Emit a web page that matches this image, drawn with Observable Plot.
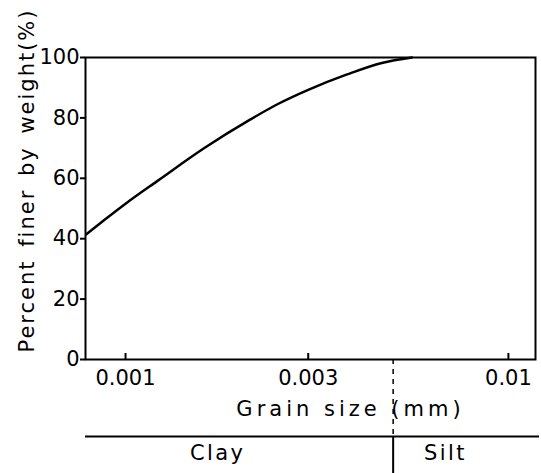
<!DOCTYPE html>
<html>
<head>
<meta charset="utf-8">
<script src="https://cdn.jsdelivr.net/npm/d3@7"></script>
<script src="https://cdn.jsdelivr.net/npm/@observablehq/plot@0.6"></script>
<style>
  html, body { margin: 0; padding: 0; background: #fff; }
  #chart svg { display: block; }
</style>
</head>
<body>
<div id="chart"></div>
<script>
// Grain-size distribution curve (percent finer vs. grain size, log scale)
const grainSize    = [0.00079, 0.00088, 0.001, 0.00122, 0.00161, 0.00212, 0.0025, 0.003, 0.00379, 0.00467, 0.0056];
const percentFiner = [41.5,    46.2,    51.6,  59.4,    70.1,    79.5,    84.6,   89.3,  94.4,    98.2,    100];

const xTicks = [0.001, 0.003, 0.01];
const yTicks = [0, 20, 40, 60, 80, 100];

// Soil classification band below the axis
const classBoundary = [0.005];
const classNames    = ["Clay", "Silt"];
const classLabelAt  = [0.00174, 0.00685];

const xTitle = "Grain size (mm)";
const yTitle = "Percent finer by weight(%)";

const curve = grainSize.map((d, i) => ({size: d, finer: percentFiner[i]}));
const classes = classNames.map((name, i) => ({name, at: classLabelAt[i]}));

const font = "DejaVu Sans, sans-serif";

const chart = Plot.plot({
  width: 541,
  height: 473,
  marginLeft: 85,
  marginRight: 6,
  marginTop: 57,
  marginBottom: 114,
  style: {fontFamily: font, fontSize: "21px", color: "#000", background: "#fff", overflow: "visible"},
  x: {type: "log", domain: [0.000786, 0.01177]},
  y: {domain: [0, 100]},
  marks: [
    Plot.frame({stroke: "#000", strokeWidth: 2}),
    Plot.axisY({ticks: yTicks, tickSize: 5, tickPadding: 1, fontSize: 21, tickFormat: d3.format("d"), label: null, strokeWidth: 2}),
    Plot.axisX({ticks: xTicks, tickSize: 0, tickPadding: 11, fontSize: 21, tickFormat: d => String(d), label: null}),
    // inward tick marks on the grain-size axis
    Plot.ruleX(xTicks, {y1: 0, y2: 0, insetTop: -6, stroke: "#000", strokeWidth: 2}),
    Plot.line(curve, {x: "size", y: "finer", curve: "monotone-x", stroke: "#000", strokeWidth: 2.5}),
    // clay / silt boundary: dashed below the axis, solid inside the band
    Plot.ruleX(classBoundary, {y1: 0, y2: 0, insetBottom: -77, stroke: "#000", strokeWidth: 1.5, strokeDasharray: "5,5"}),
    Plot.ruleX(classBoundary, {y1: 0, y2: 0, dy: 77, insetBottom: -40, stroke: "#000", strokeWidth: 2}),
    Plot.ruleY([0], {dy: 77, insetRight: -4, stroke: "#000", strokeWidth: 2}),
    Plot.text(classes, {x: "at", text: "name", frameAnchor: "bottom", dy: 100, fontSize: 21}),
    Plot.text([xTitle], {frameAnchor: "bottom", dx: 40, dy: 56, fontSize: 21}),
    Plot.text([yTitle], {frameAnchor: "left", textAnchor: "middle", rotate: -90, dx: -58, dy: -28, fontSize: 21})
  ]
});

// spaced lettering for the titles and class names
const svg = d3.select(chart);
const byText = s => svg.selectAll("text").filter(function () { return this.textContent === s; });
byText(xTitle).style("letter-spacing", "4px");
byText(yTitle).style("letter-spacing", "2px").style("word-spacing", "4px");
classNames.forEach(n => byText(n).style("letter-spacing", "2.4px"));

document.getElementById("chart").appendChild(chart);
</script>
</body>
</html>
